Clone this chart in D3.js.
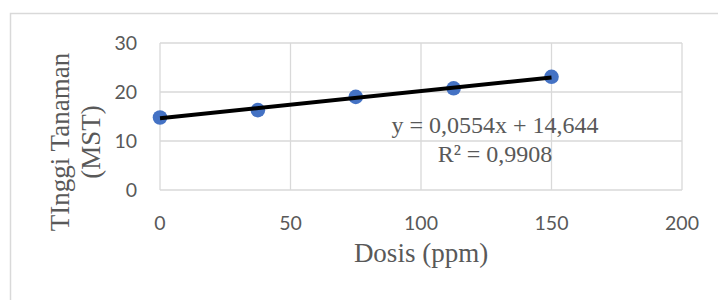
<!DOCTYPE html>
<html>
<head>
<meta charset="utf-8">
<script src="https://cdn.jsdelivr.net/npm/d3@7"></script>
<style>
  html, body { margin: 0; padding: 0; background: #fff; }
  svg { display: block; }
  .tick-label { font-family: Lato, "Open Sans", sans-serif; font-size: 19.5px; fill: #595959; }
  .title { font-family: "Liberation Serif", serif; font-size: 27px; fill: #595959; }
  .eq { font-family: "Liberation Serif", serif; font-size: 24px; fill: #595959; }
</style>
</head>
<body>
<svg id="chart" width="718" height="300"></svg>
<script>
// Data
const dosis = [0, 37.5, 75, 112.5, 150];
const tinggi = [14.8, 16.3, 19.0, 20.75, 23.1];
const xTicks = [0, 50, 100, 150, 200];
const yTicks = [0, 10, 20, 30];
const slope = 0.0554;
const intercept = 14.644;
const eqLines = ["y = 0,0554x + 14,644", "R² = 0,9908"];
const yTitleLines = ["TInggi Tanaman", "(MST)"];
const xTitle = "Dosis (ppm)";

const svg = d3.select("#chart");

// chart area border
svg.append("rect")
   .attr("x", 10.5).attr("y", 13.5)
   .attr("width", 720).attr("height", 300)
   .attr("fill", "none")
   .attr("stroke", "#d9d9d9")
   .attr("stroke-width", 1.5);

const x = d3.scaleLinear().domain([0, 200]).range([160, 682]);
const y = d3.scaleLinear().domain([0, 30]).range([190, 43]);

// gridlines
svg.append("g").selectAll("line")
   .data(xTicks)
   .enter().append("line")
   .attr("x1", d => x(d)).attr("x2", d => x(d))
   .attr("y1", y(0)).attr("y2", y(30))
   .attr("stroke", "#d9d9d9").attr("stroke-width", 1.3);

svg.append("g").selectAll("line")
   .data(yTicks)
   .enter().append("line")
   .attr("x1", x(0)).attr("x2", x(200))
   .attr("y1", d => y(d)).attr("y2", d => y(d))
   .attr("stroke", "#d9d9d9").attr("stroke-width", 1.3);

// tick labels
svg.append("g").selectAll("text")
   .data(xTicks)
   .enter().append("text")
   .attr("class", "tick-label")
   .attr("x", d => x(d))
   .attr("y", 230)
   .attr("text-anchor", "middle")
   .text(d => d);

svg.append("g").selectAll("text")
   .data(yTicks)
   .enter().append("text")
   .attr("class", "tick-label")
   .attr("x", 137)
   .attr("y", d => y(d))
   .attr("dy", "0.35em")
   .attr("text-anchor", "end")
   .text(d => d);

// points
svg.append("g").selectAll("circle")
   .data(dosis.map((d, i) => ({ x: d, y: tinggi[i] })))
   .enter().append("circle")
   .attr("cx", d => x(d.x))
   .attr("cy", d => y(d.y))
   .attr("r", 7.3)
   .attr("fill", "#4472c4");

// linear trendline
const trend = [dosis[0], dosis[dosis.length - 1]].map(d => [d, slope * d + intercept]);
svg.append("path")
   .datum(trend)
   .attr("d", d3.line().x(d => x(d[0])).y(d => y(d[1])))
   .attr("fill", "none")
   .attr("stroke", "#000")
   .attr("stroke-width", 4);

// equation label
svg.append("g").selectAll("text")
   .data(eqLines)
   .enter().append("text")
   .attr("class", "eq")
   .attr("x", 495)
   .attr("y", (d, i) => 133 + i * 29)
   .attr("text-anchor", "middle")
   .text(d => d);

// axis titles
svg.append("text")
   .attr("class", "title")
   .attr("x", 421)
   .attr("y", 262)
   .attr("text-anchor", "middle")
   .text(xTitle);

svg.append("g").selectAll("text")
   .data(yTitleLines)
   .enter().append("text")
   .attr("class", "title")
   .attr("transform", (d, i) => `translate(${69 + i * 31},142) rotate(-90)`)
   .attr("text-anchor", "middle")
   .text(d => d);
</script>
</body>
</html>
